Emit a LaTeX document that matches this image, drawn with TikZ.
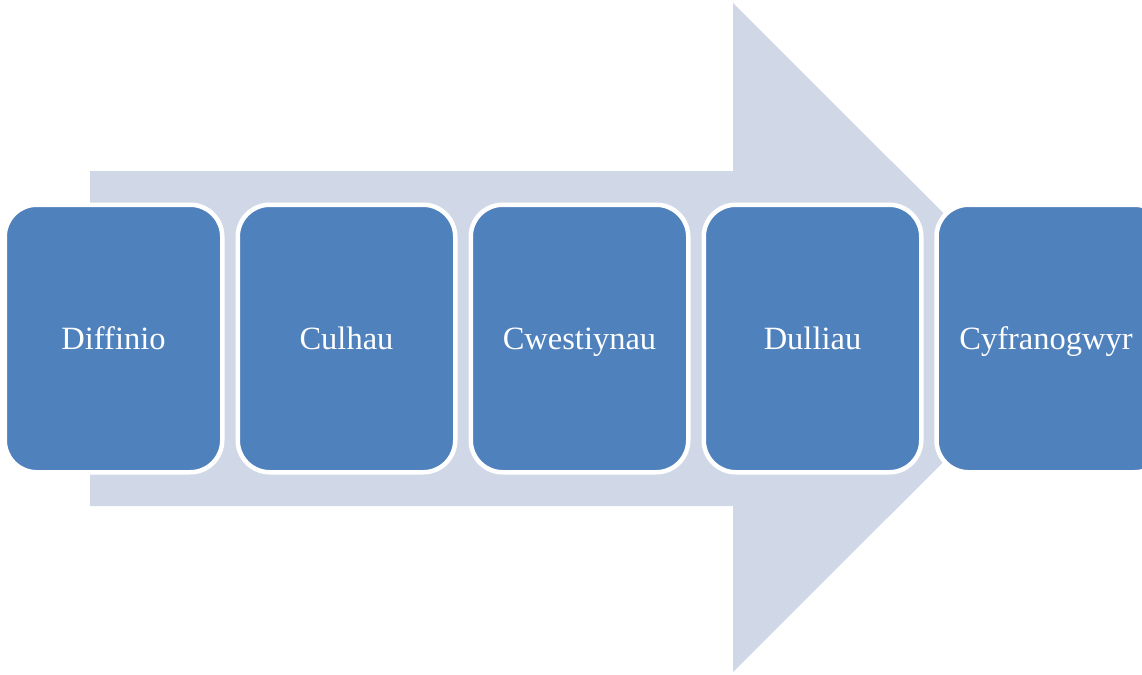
\documentclass[tikz,border=0pt]{standalone}
\usepackage{fontspec}
\setmainfont{Liberation Serif}
\definecolor{boxblue}{RGB}{79,129,189}
\definecolor{arrowfill}{RGB}{208,216,232}
\begin{document}
\begin{tikzpicture}[x=1pt,y=-1pt,
  txt/.style={text=white, font=\fontsize{32.5}{38}\selectfont, text height=28pt, text depth=7pt, inner sep=0pt},
  stepbox/.style={rectangle, rounded corners=32pt, draw=white, line width=4.5pt,
    fill=boxblue, minimum width=217.5pt, minimum height=267.5pt, txt}]
\useasboundingbox (0,0) rectangle (1142,674);
\clip (0,0) rectangle (1142,674);
\fill[white] (0,0) rectangle (1142,674);
% big arrow
\fill[arrowfill] (90,171) -- (733,171) -- (733,3) -- (1068,337.5) -- (733,672) -- (733,506) -- (90,506) -- cycle;
% boxes
\node[stepbox] (b1) at (113.5,338.5) {Diffinio};
\node[stepbox] (b2) at (346.5,338.5) {Culhau};
\node[stepbox] (b3) at (579.5,338.5) {Cwestiynau};
\node[stepbox] (b4) at (812.5,338.5) {Dulliau};
\node[stepbox, minimum width=230pt] (b5) at (1051.5,338.5) {};
\node[txt] (t5) at (1046,338.5) {Cyfranogwyr};
\end{tikzpicture}
\end{document}
